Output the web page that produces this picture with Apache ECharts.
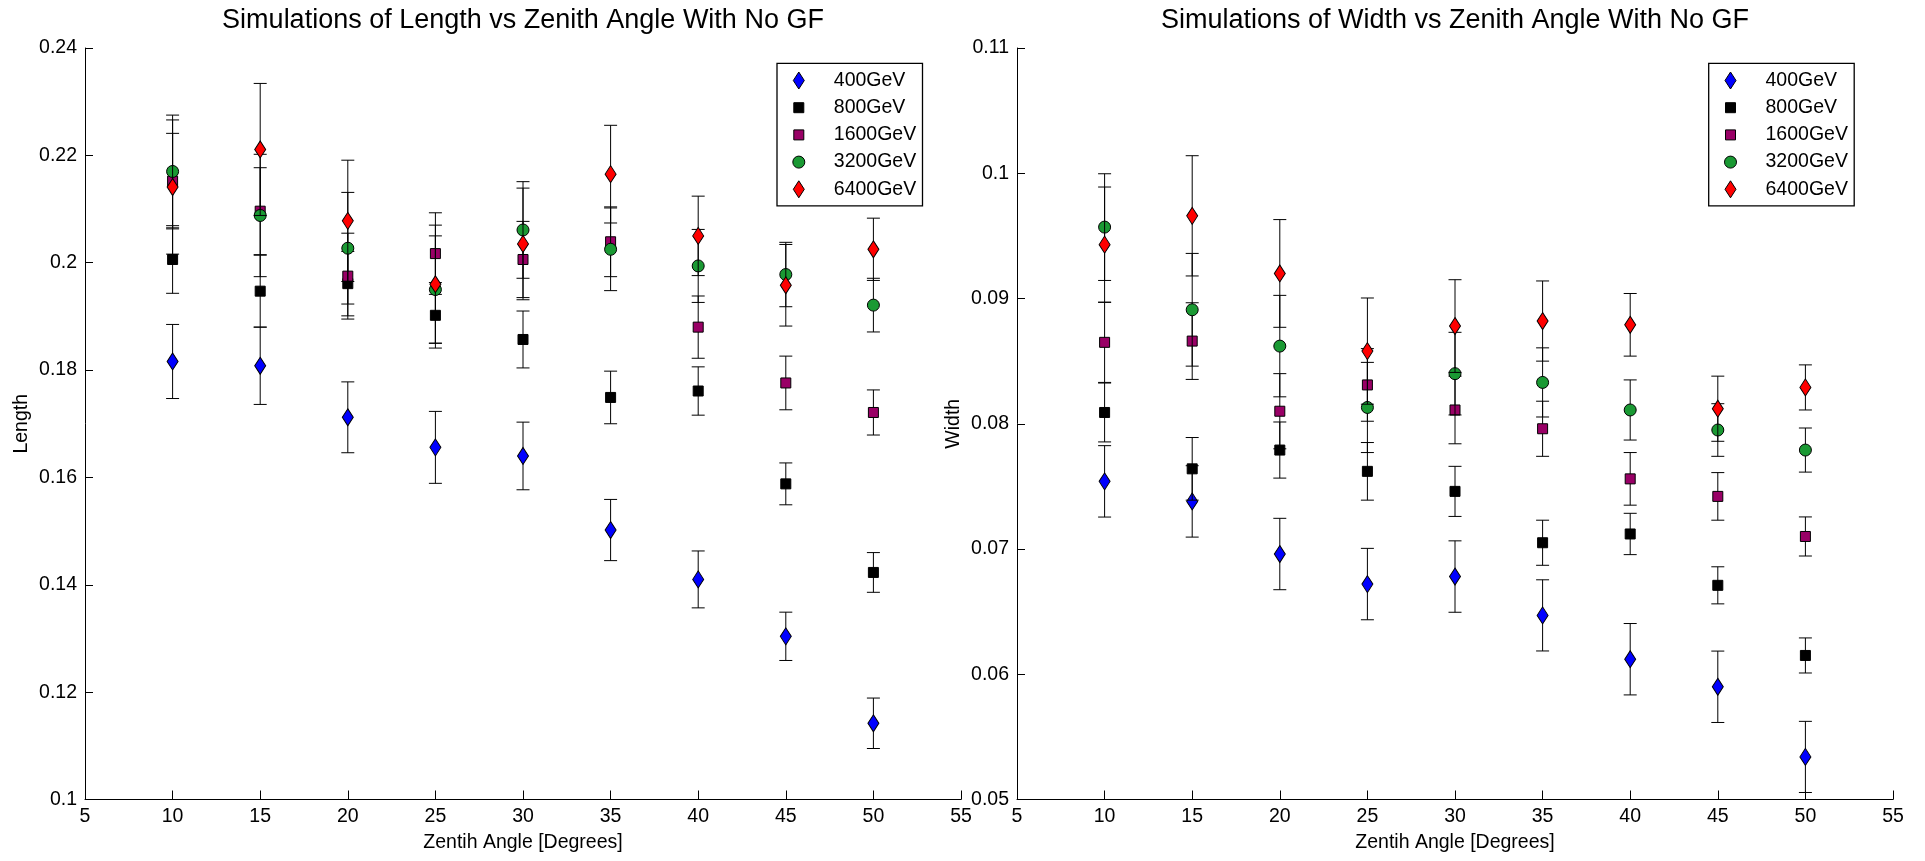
<!DOCTYPE html>
<html>
<head>
<meta charset="utf-8">
<script src="https://cdn.jsdelivr.net/npm/echarts@6/dist/echarts.min.js"></script>
<style>
html,body{margin:0;padding:0;background:#fff;}
#chart{width:1925px;height:861px;}
</style>
</head>
<body>
<div id="chart"></div>
<script>
// ---------- data ----------
const angles = [10, 15, 20, 25, 30, 35, 40, 45, 50];
const seriesNames = ['400GeV', '800GeV', '1600GeV', '3200GeV', '6400GeV'];

// Length (left panel)
const length400 = [0.1816, 0.1808, 0.1712, 0.1656, 0.1640, 0.1502, 0.1410, 0.1304, 0.1142];
const length400Err = [0.0069, 0.0072, 0.0066, 0.0067, 0.0063, 0.0057, 0.0053, 0.0045, 0.0047];
const length800 = [0.2006, 0.1947, 0.1961, 0.1902, 0.1857, 0.1749, 0.1761, 0.1588, 0.1423];
const length800Err = [0.0063, 0.0067, 0.0060, 0.0061, 0.0053, 0.0049, 0.0045, 0.0039, 0.0037];
const length1600 = [0.2152, 0.2096, 0.1975, 0.2017, 0.2006, 0.2039, 0.1880, 0.1776, 0.1721];
const length1600Err = [0.0089, 0.0081, 0.0080, 0.0076, 0.0071, 0.0065, 0.0058, 0.0050, 0.0042];
const length3200 = [0.2170, 0.2088, 0.2027, 0.1950, 0.2061, 0.2025, 0.1994, 0.1978, 0.1921];
const length3200Err = [0.0105, 0.0114, 0.0104, 0.0100, 0.0090, 0.0077, 0.0068, 0.0060, 0.0050];
const length6400 = [0.2141, 0.2211, 0.2078, 0.1960, 0.2035, 0.2165, 0.2050, 0.1958, 0.2025];
const length6400Err = [0.0125, 0.0123, 0.0113, 0.0110, 0.0104, 0.0091, 0.0074, 0.0076, 0.0058];

// Width (right panel)
const width400 = [0.0754, 0.0738, 0.0696, 0.0672, 0.0678, 0.0647, 0.0612, 0.0590, 0.0534];
const width400Err = [0.00285, 0.00285, 0.00285, 0.00285, 0.00285, 0.00284, 0.00285, 0.00285, 0.00284];
const width800 = [0.0809, 0.0764, 0.0779, 0.0762, 0.0746, 0.0705, 0.0712, 0.0671, 0.0615];
const width800Err = [0.00235, 0.0025, 0.00224, 0.0023, 0.0020, 0.0018, 0.00165, 0.00148, 0.0014];
const width1600 = [0.0865, 0.0866, 0.0810, 0.0831, 0.0811, 0.0796, 0.0756, 0.0742, 0.0710];
const width1600Err = [0.0032, 0.00306, 0.0030, 0.0029, 0.0027, 0.0022, 0.0021, 0.0019, 0.00156];
const width3200 = [0.0957, 0.0891, 0.0862, 0.0813, 0.0840, 0.0833, 0.0811, 0.0795, 0.0779];
const width3200Err = [0.00426, 0.0045, 0.00405, 0.0036, 0.0033, 0.00276, 0.0024, 0.0021, 0.00176];
const width6400 = [0.0943, 0.0966, 0.0920, 0.0858, 0.0878, 0.0882, 0.0879, 0.0812, 0.0829];
const width6400Err = [0.0046, 0.0048, 0.0043, 0.00424, 0.0037, 0.0032, 0.0025, 0.0026, 0.0018];

const xTicks = {min: 5, max: 55, interval: 5};
const lengthTicks = {min: 0.1, max: 0.24, interval: 0.02};
const widthTicks = {min: 0.05, max: 0.11, interval: 0.01};

// ---------- styling ----------
const FONT = "'Liberation Sans', Arial, Helvetica, sans-serif";
const colors = ['#0000ff', '#000000', '#990066', '#1a9933', '#ff0000'];
const symbols = ['diamond', 'rect', 'rect', 'circle', 'diamond'];
const symbolSizes = [[11, 17], 10, 10, 12, 12];
symbolSizes[4] = [11, 17];
const legendIcons = [
  'path://M-10,-10M10,10M0,-8.5L5.5,0L0,8.5L-5.5,0Z',
  'path://M-10,-10M10,10M-5,-5L5,-5L5,5L-5,5Z',
  'path://M-10,-10M10,10M-5,-5L5,-5L5,5L-5,5Z',
  'path://M-10,-10M10,10M-6,0A6,6,0,1,0,6,0A6,6,0,1,0,-6,0Z',
  'path://M-10,-10M10,10M0,-8.5L5.5,0L0,8.5L-5.5,0Z'
];

const lengthSets = [[length400, length400Err], [length800, length800Err], [length1600, length1600Err], [length3200, length3200Err], [length6400, length6400Err]];
const widthSets = [[width400, width400Err], [width800, width800Err], [width1600, width1600Err], [width3200, width3200Err], [width6400, width6400Err]];

function toData(vals, errs) {
  return angles.map((a, i) => [a, vals[i], errs[i]]);
}

function errRender(params, api) {
  const x = api.value(0), y = api.value(1), e = api.value(2);
  const top = api.coord([x, y + e]);
  const bot = api.coord([x, y - e]);
  const hw = 6.5;
  const style = {stroke: '#000', lineWidth: 1, fill: null};
  return {
    type: 'group',
    children: [
      {type: 'line', shape: {x1: top[0], y1: top[1], x2: bot[0], y2: bot[1]}, style: style},
      {type: 'line', shape: {x1: top[0] - hw, y1: top[1], x2: top[0] + hw, y2: top[1]}, style: style},
      {type: 'line', shape: {x1: bot[0] - hw, y1: bot[1], x2: bot[0] + hw, y2: bot[1]}, style: style}
    ]
  };
}

const series = [];
[lengthSets, widthSets].forEach((sets, axisIdx) => {
  sets.forEach((pair, i) => {
    const data = toData(pair[0], pair[1]);
    series.push({
      type: 'custom',
      name: seriesNames[i] + ' err',
      xAxisIndex: axisIdx, yAxisIndex: axisIdx,
      renderItem: errRender,
      encode: {x: 0, y: 1},
      data: data,
      silent: true,
      z: 10 + 2 * i
    });
    series.push({
      type: 'scatter',
      name: seriesNames[i],
      xAxisIndex: axisIdx, yAxisIndex: axisIdx,
      symbol: symbols[i],
      symbolSize: symbolSizes[i],
      itemStyle: {color: colors[i], borderColor: '#000', borderWidth: 1, opacity: 1},
      data: data.map(d => [d[0], d[1]]),
      silent: true,
      z: 11 + 2 * i
    });
  });
});

function makeXAxis(gridIndex) {
  return {
    type: 'value', gridIndex: gridIndex,
    min: xTicks.min, max: xTicks.max, interval: xTicks.interval,
    name: 'Zentih Angle [Degrees]', nameLocation: 'middle', nameGap: 33,
    nameTextStyle: {fontFamily: FONT, fontSize: 19.5, color: '#000'},
    axisLine: {show: true, onZero: false, lineStyle: {color: '#000', width: 1}},
    axisTick: {show: true, inside: true, length: 9, lineStyle: {color: '#000', width: 1}},
    axisLabel: {fontFamily: FONT, fontSize: 19.5, color: '#000', margin: 7},
    splitLine: {show: false}
  };
}
function makeYAxis(gridIndex, ticks, name) {
  return {
    type: 'value', gridIndex: gridIndex,
    min: ticks.min, max: ticks.max, interval: ticks.interval,
    name: name, nameLocation: 'middle', nameGap: 53,
    nameTextStyle: {fontFamily: FONT, fontSize: 19.5, color: '#000'},
    axisLine: {show: true, onZero: false, lineStyle: {color: '#000', width: 1}},
    axisTick: {show: true, inside: true, length: 8, lineStyle: {color: '#000', width: 1}},
    axisLabel: {fontFamily: FONT, fontSize: 19.5, color: '#000', margin: 8},
    splitLine: {show: false}
  };
}
function makeLegend(left) {
  return {
    show: true, orient: 'vertical', left: left, top: 63.3,
    selectedMode: false,
    data: seriesNames.map((n, i) => ({name: n, icon: legendIcons[i]})),
    itemWidth: 60, itemHeight: 20, itemGap: 6.2,
    symbolKeepAspect: true,
    padding: [6.7, 6.3, 6, 11.3],
    borderColor: '#000', borderWidth: 1.3, backgroundColor: '#fff',
    itemStyle: {borderColor: '#000', borderWidth: 1},
    textStyle: {fontFamily: FONT, fontSize: 19.5, color: '#000', lineHeight: 20},
    z: 50
  };
}

const option = {
  backgroundColor: '#fff',
  animation: false,
  title: [
    {text: 'Simulations of Length vs Zenith Angle With No GF', left: 523, top: 7, padding: 0, textAlign: 'center',
     textStyle: {fontFamily: FONT, fontSize: 27, fontWeight: 'normal', color: '#000'}},
    {text: 'Simulations of Width vs Zenith Angle With No GF', left: 1455, top: 7, padding: 0, textAlign: 'center',
     textStyle: {fontFamily: FONT, fontSize: 27, fontWeight: 'normal', color: '#000'}}
  ],
  legend: [makeLegend(777), makeLegend(1708.7)],
  grid: [
    {left: 85, top: 48, width: 876, height: 751.5, containLabel: false},
    {left: 1017, top: 48, width: 876, height: 751.5, containLabel: false}
  ],
  xAxis: [makeXAxis(0), makeXAxis(1)],
  yAxis: [makeYAxis(0, lengthTicks, 'Length'), makeYAxis(1, widthTicks, 'Width')],
  series: series
};

const chart = echarts.init(document.getElementById('chart'), null, {renderer: 'canvas'});
chart.setOption(option);
</script>
</body>
</html>
